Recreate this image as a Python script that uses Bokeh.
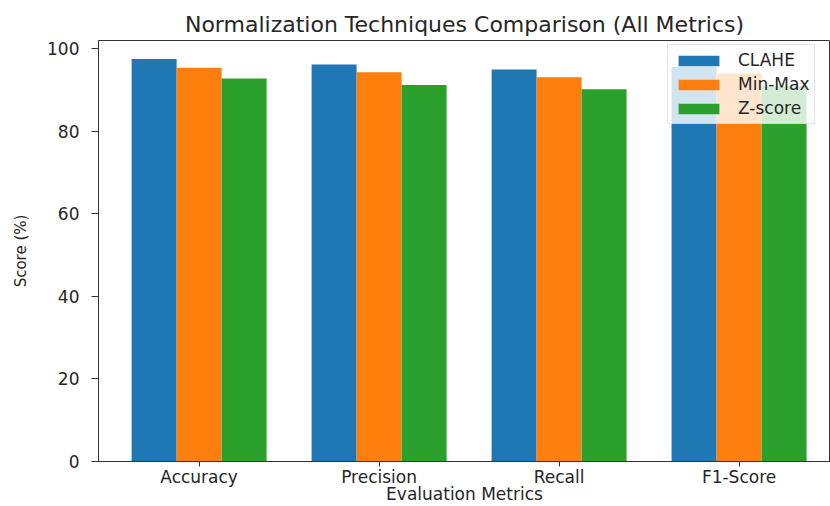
from bokeh.plotting import figure
from bokeh.models import Range1d, FixedTicker, Legend, LegendItem, ColumnDataSource
from bokeh.embed import file_html
from bokeh.resources import INLINE

categories = ["Accuracy", "Precision", "Recall", "F1-Score"]
methods = ["CLAHE", "Min-Max", "Z-score"]
clahe = [97.5, 96.2, 95.0, 95.6]
minmax = [95.4, 94.3, 93.1, 94.0]
zscore = [92.8, 91.2, 90.2, 90.9]
y_ticks = [0, 20, 40, 60, 80, 100]

series = [clahe, minmax, zscore]
colors = ["#1f77b4", "#ff7f0e", "#2ca02c"]
bar_width = 0.25
offsets = [-0.25, 0.0, 0.25]
FONT = "DejaVu Sans"
TXT = "#262626"

p = figure(width=830, height=506, output_backend="svg", toolbar_location=None,
           x_range=Range1d(-0.559, 3.508), y_range=Range1d(0, 102.0),
           min_border_left=98, min_border_right=0, min_border_top=40, min_border_bottom=44)

p.title.text = "Normalization Techniques Comparison (All Metrics)"
p.title.align = "center"
p.title.text_font = FONT
p.title.text_font_size = "22px"
p.title.text_font_style = "normal"
p.title.text_color = TXT
p.title.standoff = 7

renderers = []
for vals, col, off in zip(series, colors, offsets):
    src = ColumnDataSource(dict(x=[i + off for i in range(len(categories))], top=vals))
    r = p.vbar(x="x", top="top", width=bar_width, source=src, fill_color=col, line_color=None)
    renderers.append(r)

p.xaxis.ticker = FixedTicker(ticks=list(range(len(categories))))
p.xaxis.major_label_overrides = {i: c for i, c in enumerate(categories)}
p.yaxis.ticker = FixedTicker(ticks=y_ticks)
for ax in (p.xaxis, p.yaxis):
    ax.minor_tick_line_color = None
    ax.axis_line_color = "#333333"
    ax.major_tick_line_color = "#333333"
    ax.major_label_text_font = FONT
    ax.major_label_text_color = TXT
    ax.axis_label_text_font = FONT
    ax.axis_label_text_color = TXT
    ax.axis_label_text_font_style = "normal"
    ax.major_tick_in = 0

p.xaxis.axis_label = "Evaluation Metrics"
p.xaxis.major_label_text_font_size = "17px"
p.xaxis.axis_label_text_font_size = "17px"
p.xaxis.major_tick_out = 5
p.xaxis.major_label_standoff = 0
p.xaxis.axis_label_standoff = -6

p.yaxis.axis_label = "Score (%)"
p.yaxis.major_label_text_font_size = "17px"
p.yaxis.axis_label_text_font_size = "15px"
p.yaxis.major_tick_out = 7
p.yaxis.major_label_standoff = 12
p.yaxis.axis_label_standoff = 14

p.xgrid.grid_line_color = None
p.ygrid.grid_line_color = None
p.outline_line_color = "#333333"
p.background_fill_color = "white"
p.border_fill_color = "white"

legend = Legend(items=[LegendItem(label=m, renderers=[r]) for m, r in zip(methods, renderers)],
                location=(569, 337))
legend.padding = 5
legend.spacing = 4
legend.margin = 0
legend.glyph_width = 51
legend.glyph_height = 13
legend.label_height = 20
legend.label_standoff = 14
legend.label_text_font = FONT
legend.label_text_font_size = "17px"
legend.label_text_color = TXT
legend.background_fill_alpha = 0.8
legend.border_line_color = "#cccccc"
p.add_layout(legend)

open("out.html", "w").write(file_html(p, INLINE))
